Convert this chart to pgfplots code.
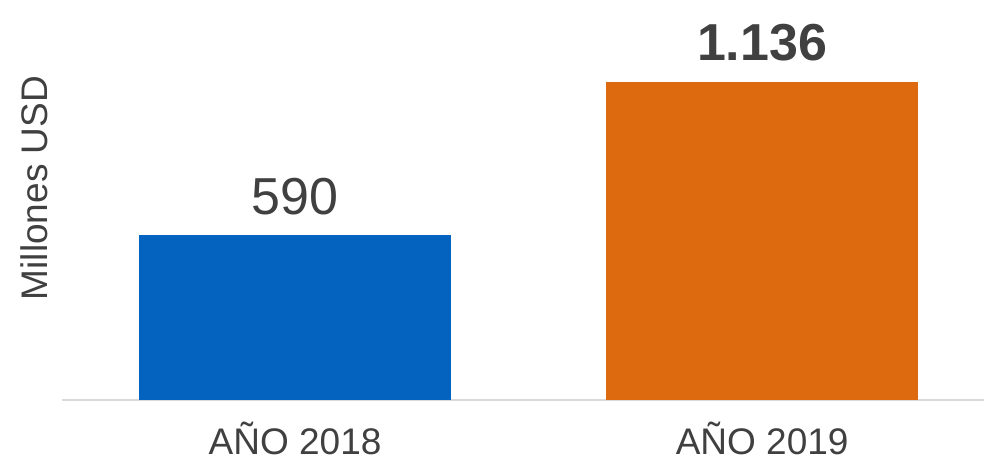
\documentclass[border=0pt]{standalone}
\usepackage{fontspec}
\setmainfont{Liberation Sans}
\usepackage{pgfplots}
\pgfplotsset{compat=1.18}
\definecolor{barblue}{RGB}{5,99,192}
\definecolor{barorange}{RGB}{222,106,16}
\definecolor{txt}{RGB}{64,64,64}
\definecolor{axgray}{RGB}{217,217,217}
\begin{document}
\begin{tikzpicture}
\begin{axis}[
  scale only axis,
  width=461pt, height=200pt,
  xmin=-0.499, xmax=1.475,
  ymin=0, ymax=1427,
  axis x line*=bottom,
  axis y line*=left,
  x axis line style={draw=axgray, line width=1pt, -},
  y axis line style={draw=none},
  xtick={0,1},
  xticklabels={AÑO 2018, AÑO 2019},
  xtick style={draw=none},
  xticklabel style={font=\fontsize{18.5}{20}\selectfont, text=txt, yshift=-7.5pt},
  ylabel={Millones USD},
  ylabel style={at={(rel axis cs:0,0.53)}, anchor=center, yshift=14pt, font=\fontsize{18.5}{20}\selectfont, text=txt},
  ytick=\empty,
  clip=false,
]
\addplot[ybar, bar width=156pt, bar shift=0pt, fill=barblue, draw=none,
  nodes near coords, point meta=explicit symbolic,
  nodes near coords style={anchor=base, yshift=10pt, inner sep=0pt, font=\fontsize{26}{28}\selectfont, text=txt}]
  coordinates {(0,590) [590]};
\addplot[ybar, bar width=156pt, bar shift=0pt, fill=barorange, draw=none,
  nodes near coords, point meta=explicit symbolic,
  nodes near coords style={anchor=base, yshift=10.5pt, inner sep=0pt, font=\fontsize{26}{28}\selectfont\bfseries, text=txt}]
  coordinates {(1,1136) [1.136]};
\end{axis}
\pgfresetboundingbox
\path ([xshift=-31pt,yshift=-30pt]current axis.south west) rectangle (current axis.north east);
\end{tikzpicture}
\end{document}
